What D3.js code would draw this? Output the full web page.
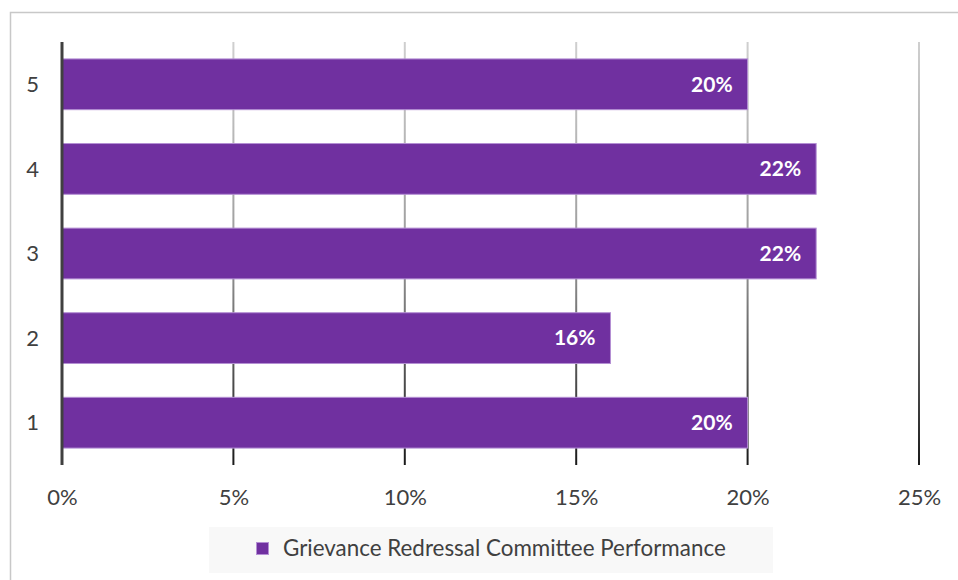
<!DOCTYPE html>
<html><head><meta charset="utf-8">
<script src="https://cdn.jsdelivr.net/npm/d3@7"></script>
<style>body{margin:0;background:#fff}svg{display:block}</style>
</head><body>
<svg id="c" width="958" height="580"></svg>
<script>
const categories = ["1","2","3","4","5"];
const values = [0.20, 0.16, 0.22, 0.22, 0.20];
const tickValues = [0, 0.05, 0.10, 0.15, 0.20, 0.25];
const seriesName = "Grievance Redressal Committee Performance";

const svg = d3.select("#c");
const font = "Lato, 'Open Sans', sans-serif";
const purple = "#7030A0";

// frame
svg.append("rect").attr("x",10.5).attr("y",12.5).attr("width",960).attr("height",600)
  .attr("fill","#fff").attr("stroke","#c8c8c8").attr("stroke-width",1.5);

const m = {left:62, right:919, top:42, bottom:465};
const x = d3.scaleLinear().domain([0,0.25]).range([m.left, m.right]);
const y = d3.scaleBand().domain(categories.slice().reverse()).range([m.top, m.bottom]).paddingInner(0.4).paddingOuter(0.2);

// gradient for gridlines
const defs = svg.append("defs");
const g = defs.append("linearGradient").attr("id","gg").attr("gradientUnits","userSpaceOnUse")
  .attr("x1",0).attr("y1",m.top).attr("x2",0).attr("y2",m.bottom);
g.append("stop").attr("offset","0%").attr("stop-color","#cfcfcf");
g.append("stop").attr("offset","50%").attr("stop-color","#9a9a9a");
g.append("stop").attr("offset","100%").attr("stop-color","#1a1a1a");

svg.append("g").selectAll("line").data(tickValues.slice(1)).join("line")
  .attr("x1",d=>x(d)).attr("x2",d=>x(d)).attr("y1",m.top).attr("y2",m.bottom)
  .attr("stroke","url(#gg)").attr("stroke-width",2);

// x axis tick labels
const xAxis = d3.axisBottom(x).tickValues(tickValues).tickFormat(d3.format(".0%")).tickSize(0).tickPadding(0);
const xa = svg.append("g").attr("transform",`translate(0,${m.bottom})`).call(xAxis);
xa.select(".domain").remove();
xa.selectAll("text").attr("y",32).attr("dy","0.35em").attr("font-family",font).attr("font-size",22).attr("fill","#404040");

// y axis labels
const yAxis = d3.axisLeft(y).tickSize(0).tickPadding(0);
const ya = svg.append("g").attr("transform",`translate(${m.left},0)`).call(yAxis);
ya.select(".domain").remove();
ya.selectAll("text").attr("x",-23).attr("dy","0.35em").attr("font-family",font).attr("font-size",22).attr("fill","#404040");

// bars
svg.append("g").selectAll("rect").data(categories).join("rect")
  .attr("x",x(0)).attr("y",(d)=>y(d)).attr("width",(d,i)=>x(values[i])-x(0)).attr("height",y.bandwidth())
  .attr("fill",purple).attr("stroke","#b48fd4").attr("stroke-width",1);

// data labels
svg.append("g").selectAll("text").data(categories).join("text")
  .attr("x",(d,i)=>x(values[i])-15).attr("y",d=>y(d)+y.bandwidth()/2).attr("dy","0.35em")
  .attr("text-anchor","end").attr("font-family",font).attr("font-weight","bold").attr("font-size",21).attr("fill","#fff")
  .text((d,i)=>d3.format(".0%")(values[i]));

// axis line
svg.append("line").attr("x1",m.left).attr("x2",m.left).attr("y1",m.top).attr("y2",m.bottom)
  .attr("stroke","#404040").attr("stroke-width",3);

// legend
const lg = svg.append("g");
lg.append("rect").attr("x",209).attr("y",527).attr("width",564).attr("height",46).attr("fill","#f8f8f8");
lg.append("rect").attr("x",256.5).attr("y",542.5).attr("width",12).attr("height",12).attr("fill",purple).attr("stroke","#b48fd4");
lg.append("text").attr("x",283).attr("y",556).attr("font-family",font).attr("font-size",22.4).attr("fill","#404040").text(seriesName);
</script>
</body></html>
